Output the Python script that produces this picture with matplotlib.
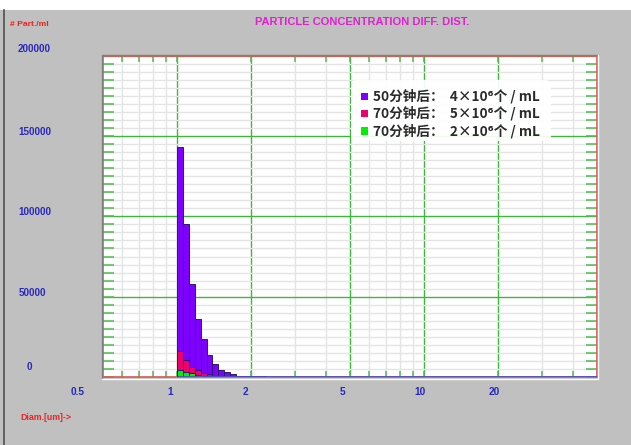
import numpy as np
import matplotlib
matplotlib.use("Agg")
import matplotlib.pyplot as plt
from matplotlib.patches import Rectangle, FancyBboxPatch
from matplotlib.lines import Line2D
from matplotlib.ticker import FixedLocator, MultipleLocator, NullFormatter

# bin edges (diameter, um) of the histogram
diam_edges = [1.000, 1.057, 1.117, 1.180, 1.247, 1.318, 1.393, 1.472, 1.556,
              1.644, 1.738, 1.836, 1.941, 2.051, 2.168, 2.291, 2.421]

# particles / ml in each bin
conc_50min = [143000, 95000, 57700, 35900, 23600, 13700, 8100, 4400, 2900,
              1700, 800, 500, 500, 400, 400, 300]
conc_70min_a = [16200, 10400, 6100, 4100, 2800, 1700, 900, 500, 300,
                200, 0, 0, 0, 0, 0, 0]
conc_70min_b = [4300, 3400, 2400, 1500, 850, 600, 300, 200, 100,
                0, 0, 0, 0, 0, 0, 0]

legend_labels = ["50分钟后：  4\u00d710\u2076个 / mL",
                 "70分钟后：  5\u00d710\u2076个 / mL",
                 "70分钟后：  2\u00d710\u2076个 / mL"]
bar_colors = ["#7f00ff", "#f0006e", "#00f000"]

x_labels = ["0.5", "1", "2", "5", "10", "20"]
y_labels = ["200000", "150000", "100000", "50000", "0"]

W, H = 631, 445
def fx(px):
    return px / W
def fy(py):
    return 1 - py / H

sans = "Liberation Sans"
cjk = ["Noto Sans CJK SC", "DejaVu Sans"]

fig = plt.figure(figsize=(W / 100, H / 100), dpi=100)
fig.patch.set_facecolor("#c0c0c0")

# white strip on top and dark frame line on the left (window look)
fig.patches.append(Rectangle((0, fy(9.5)), 1, 1 - fy(9.5), transform=fig.transFigure,
                             facecolor="white", edgecolor="none", zorder=0))
fig.lines.append(Line2D([fx(4), fx(4)], [0, fy(9.5)], transform=fig.transFigure,
                        color="#505050", lw=1.2))

L, R, T, B = 102.5, 596.7, 55.7, 377.0
ax = fig.add_axes([fx(L), fy(B), fx(R) - fx(L), fy(T) - fy(B)])
ax.set_facecolor("white")

# bevel around the plot
fig.lines.append(Line2D([fx(L - 1), fx(L - 1), fx(R + 1)], [fy(B + 1), fy(T - 1), fy(T - 1)],
                        transform=fig.transFigure, color="#808080", lw=1))
fig.lines.append(Line2D([fx(L - 1), fx(R + 1.5), fx(R + 1.5)], [fy(B + 1.5), fy(B + 1.5), fy(T - 1)],
                        transform=fig.transFigure, color="white", lw=1))

ax.set_xscale("log")
ax.set_xlim(0.5, 50)
ax.set_ylim(0, 200000)

ax.xaxis.set_major_locator(FixedLocator([1, 2, 5, 10, 20]))
ax.xaxis.set_minor_locator(FixedLocator([0.6, 0.7, 0.8, 0.9, 3, 4, 6, 7, 8, 9, 30, 40]))
ax.yaxis.set_major_locator(MultipleLocator(50000))
ax.yaxis.set_minor_locator(MultipleLocator(5000))
ax.xaxis.set_major_formatter(NullFormatter())
ax.xaxis.set_minor_formatter(NullFormatter())
ax.yaxis.set_major_formatter(NullFormatter())

ax.grid(which="minor", color="#e4e4e4", lw=1)
ax.grid(which="major", color="#3cb83c", lw=1)
ax.tick_params(axis="y", which="both", direction="in", left=True, right=True,
               length=8, width=1.1, color="#4cbc4c")
ax.tick_params(axis="x", which="both", direction="in", top=True, bottom=True,
               length=4.5, width=1.1, color="#4cbc4c")
for s in ax.spines.values():
    s.set_color("#e05858")
    s.set_linewidth(1.2)
ax.set_axisbelow(True)

widths = np.diff(diam_edges)
lefts = np.array(diam_edges[:-1])
for vals, c in zip([conc_50min, conc_70min_a, conc_70min_b], bar_colors):
    ax.bar(lefts, vals, width=widths, align="edge", color=c,
           edgecolor="#2a1a70", linewidth=0.7, zorder=3)
ax.hlines(0, diam_edges[0], 50, color="#5050c0", lw=2, zorder=4)

# legend box
fig.patches.append(FancyBboxPatch((fx(351), fy(141)), fx(551) - fx(351), fy(80) - fy(141),
                                  boxstyle="round,pad=0,rounding_size=0.01",
                                  transform=fig.transFigure, facecolor="white",
                                  edgecolor="none", alpha=0.93, zorder=5))
for i, (lab, c) in enumerate(zip(legend_labels, bar_colors)):
    yc = 96 + 17.5 * i
    fig.patches.append(Rectangle((fx(361), fy(yc + 3.5)), fx(368) - fx(361), fy(yc - 3.5) - fy(yc + 3.5),
                                 transform=fig.transFigure, facecolor=c,
                                 edgecolor="none", zorder=6))
    fig.text(fx(373), fy(yc), lab, family=cjk, fontsize=9.8, weight="bold",
             color="#2a2a2a", ha="left", va="center", zorder=7)

# texts
fig.text(fx(362), fy(22), "PARTICLE CONCENTRATION DIFF. DIST.", family=sans,
         fontsize=8.05, weight="bold", color="#e020d0", ha="center", va="center")
fig.text(fx(10.5), fy(24), "# Part./ml", family=sans, fontsize=6.1, weight="bold",
         color="#f02020", ha="left", va="center")
fig.text(fx(20), fy(418), "Diam.[um]->", family=sans, fontsize=6.3, weight="bold",
         color="#f02020", ha="left", va="center")

y_label_pos = [(34.5, 49), (34.5, 132.3), (34.5, 212.3), (32, 292.7), (29.7, 367.3)]
for lab, (px, py) in zip(y_labels, y_label_pos):
    fig.text(fx(px), fy(py), lab, family=sans, fontsize=7.1, weight="bold",
             color="#2828c0", ha="center", va="center")

x_label_pos = [78, 170.5, 245, 343, 420, 494]
for lab, px in zip(x_labels, x_label_pos):
    fig.text(fx(px), fy(392), lab, family=sans, fontsize=7.3, weight="bold",
             color="#2828c0", ha="center", va="center")

fig.savefig("out.png", dpi=100, facecolor=fig.get_facecolor())
